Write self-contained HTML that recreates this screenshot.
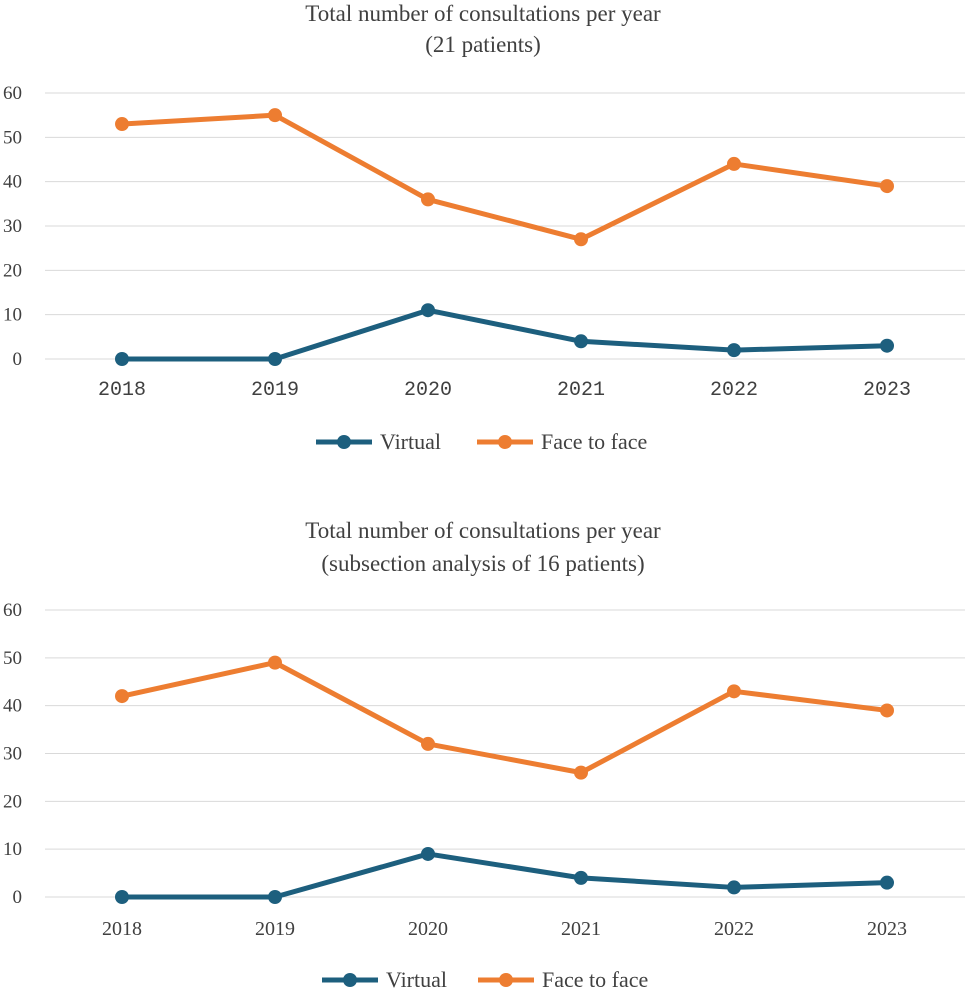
<!DOCTYPE html>
<html><head><meta charset="utf-8">
<style>
html,body{margin:0;padding:0;background:#fff;}
svg{display:block;}
</style></head>
<body>
<svg id="root" width="967" height="989" xmlns="http://www.w3.org/2000/svg">
<text x="483" y="21" text-anchor="middle" font-family="Liberation Serif, serif" font-size="23" fill="#404040">Total number of consultations per year</text>
<text x="483" y="52" text-anchor="middle" font-family="Liberation Serif, serif" font-size="23" fill="#404040">(21 patients)</text>
<text x="483" y="538" text-anchor="middle" font-family="Liberation Serif, serif" font-size="23" fill="#404040">Total number of consultations per year</text>
<text x="483" y="571" text-anchor="middle" font-family="Liberation Serif, serif" font-size="23" fill="#404040">(subsection analysis of 16 patients)</text>
<g id="top"></g>
<g id="bottom"></g>
</svg>
<script>
const years = ["2018","2019","2020","2021","2022","2023"];
const yTicks = [0,10,20,30,40,50,60];
const topVirtual = [0,0,11,4,2,3];
const topFace = [53,55,36,27,44,39];
const bottomVirtual = [0,0,9,4,2,3];
const bottomFace = [42,49,32,26,43,39];

const NS="http://www.w3.org/2000/svg";
const BLUE="#1d5f7e", ORANGE="#ed7d31";
function mk(parent,tag,attrs,text){const e=document.createElementNS(NS,tag);for(const k in attrs)e.setAttribute(k,attrs[k]);if(text!==undefined)e.textContent=text;parent.appendChild(e);return e;}

function drawChart(gid,cfg,virt,face){
  const g=document.getElementById(gid);
  const xScale=i=>cfg.x0+i*cfg.step;
  const yScale=v=>cfg.y0-(v/60)*(cfg.y0-cfg.y60);
  yTicks.forEach(t=>{
    const l=mk(g,"line",{x1:45,x2:965,y1:yScale(t),y2:yScale(t),stroke:"#d9d9d9","stroke-width":1});
    
    
    const tx=mk(g,"text",{x:22,y:yScale(t)+6,"text-anchor":"end","font-family":"Liberation Serif, serif","font-size":19,fill:"#404040"},String(t));
    
    
  });
  years.forEach((yr,i)=>{
    const tx=mk(g,"text",{x:xScale(i),y:cfg.xly,"text-anchor":"middle","font-family":cfg.xfont,"font-size":cfg.xfs,fill:"#404040"},yr);
    
    
  });
  [[face,ORANGE,"face-to-face"],[virt,BLUE,"virtual"]].forEach(([arr,col,nm])=>{
    const pts=arr.map((v,i)=>xScale(i)+","+yScale(v)).join(" ");
    const pl=mk(g,"polyline",{points:pts,fill:"none",stroke:col,"stroke-width":5,"stroke-linejoin":"round"});
    
    
    arr.forEach((v,i)=>{
      const c=mk(g,"circle",{cx:xScale(i),cy:yScale(v),r:7,fill:col});
      
      
    });
  });
  const L=cfg.leg;
  [[BLUE,"Virtual",L.vx,"virtual"],[ORANGE,"Face to face",L.fx,"face-to-face"]].forEach(([col,lab,x,nm])=>{
    const grp=mk(g,"g",{});
    
    
    mk(grp,"line",{x1:x,x2:x+56,y1:L.y,y2:L.y,stroke:col,"stroke-width":5});
    mk(grp,"circle",{cx:x+28,cy:L.y,r:7,fill:col});
    mk(grp,"text",{x:x+64,y:L.y+7,"font-family":"Liberation Serif, serif","font-size":22,fill:"#404040"},lab);
  });
}
drawChart("top",{x0:122,step:153,y0:359,y60:93,xly:395,xfs:20,xfont:"Liberation Mono, monospace",leg:{y:442,vx:316,fx:477}},topVirtual,topFace);
drawChart("bottom",{x0:122,step:153,y0:897,y60:610,xly:935,xfs:20,xfont:"Liberation Serif, serif",leg:{y:980,vx:322,fx:478}},bottomVirtual,bottomFace);
</script>
</body></html>
